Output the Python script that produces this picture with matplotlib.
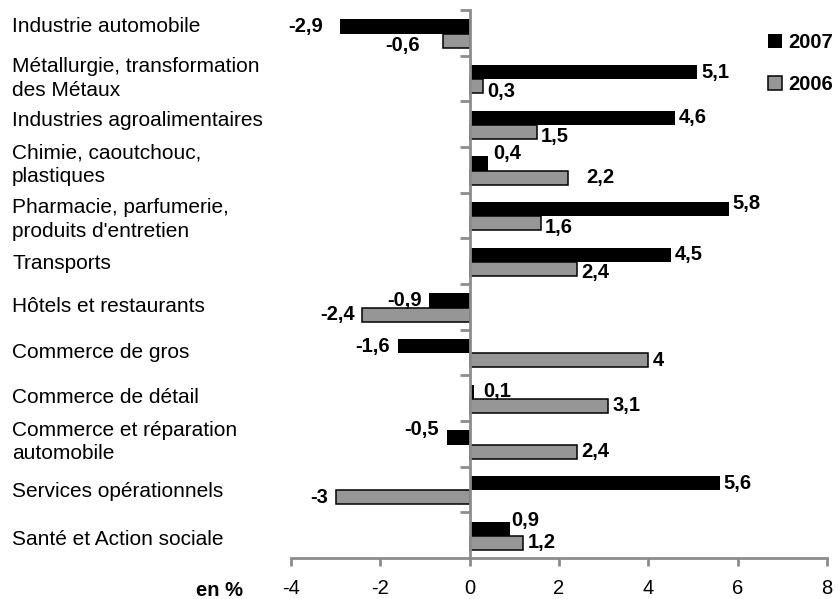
import numpy as np
import matplotlib
matplotlib.use("Agg")
import matplotlib.pyplot as plt
import matplotlib.transforms as mtransforms

plt.rcParams['font.family'] = ['Liberation Sans', 'DejaVu Sans']

# Data
categories = [
    "Industrie automobile",
    "Métallurgie, transformation\ndes Métaux",
    "Industries agroalimentaires",
    "Chimie, caoutchouc,\nplastiques",
    "Pharmacie, parfumerie,\nproduits d'entretien",
    "Transports",
    "Hôtels et restaurants",
    "Commerce de gros",
    "Commerce de détail",
    "Commerce et réparation\nautomobile",
    "Services opérationnels",
    "Santé et Action sociale",
]
v2007 = [-2.9, 5.1, 4.6, 0.4, 5.8, 4.5, -0.9, -1.6, 0.1, -0.5, 5.6, 0.9]
v2006 = [-0.6, 0.3, 1.5, 2.2, 1.6, 2.4, -2.4, 4.0, 3.1, 2.4, -3.0, 1.2]
xticks = [-4, -2, 0, 2, 4, 6, 8]

# small manual nudges of the value labels (pixels, +y = down)
dy2007 = [0, 0, 0, -10, -6, 0, 0, 0, 0, -8, 0, -8]
dy2006 = [5, 5, 5, 0, 4, 4, 0, 0, 0, 0, 0, 0]
dx2007 = [-9, 0, 0, 2, 0, 0, 0, 0, 5, 0, 0, -3]
dx2006 = [-15, 0, 0, 14, 0, 0, 0, 0, 0, 0, 0, 0]
cat_dy = [-6, 0, -4, -5, 4, 2, 0, 0, -1, -2, 2, 4]

fig = plt.figure(figsize=(8.38, 5.99), dpi=100)
ax = fig.add_axes([291 / 838, 1 - 558 / 599, 536 / 838, 548 / 599])

y = np.arange(len(categories))
h = 0.31
ax.barh(y - 0.14, v2007, height=h, color='black', label='2007', zorder=2)
ax.barh(y + 0.17, v2006, height=h, color='#969696', edgecolor='black',
        linewidth=1.1, label='2006', zorder=2)

ax.set_xlim(-4, 8)
ax.set_ylim(len(categories) - 0.5, -0.5)
ax.set_xticks(xticks)
ax.set_xticklabels([str(t) for t in xticks], fontsize=14.5)
ax.set_yticks(np.arange(len(categories)) - 0.5)
ax.set_yticklabels([])

grey = '#8c8c8c'
for s in ['top', 'right']:
    ax.spines[s].set_visible(False)
ax.spines['left'].set_position(('data', 0))
ax.spines['left'].set_color(grey)
ax.spines['left'].set_linewidth(2)
ax.spines['bottom'].set_color(grey)
ax.spines['bottom'].set_linewidth(2)
ax.tick_params(axis='x', colors=grey, length=6, width=2, direction='out', pad=9, labelcolor='black')
ax.tick_params(axis='y', colors=grey, length=7, width=2, direction='out')
ax.spines['left'].set_zorder(3)

def px(v):
    return v * 0.72

for i in range(len(categories)):
    for val, yy, dx, dy in [(v2007[i], y[i] - 0.14, dx2007[i], dy2007[i]),
                            (v2006[i], y[i] + 0.17, dx2006[i], dy2006[i])]:
        txt = ('%g' % val).replace('.', ',')
        if val >= 0:
            ax.annotate(txt, (val, yy), xytext=(px(4 + dx), px(-dy)), textcoords='offset points',
                        ha='left', va='center', fontsize=14.5, fontweight='bold')
        else:
            ax.annotate(txt, (val, yy), xytext=(px(-8 + dx), px(-dy)), textcoords='offset points',
                        ha='right', va='center', fontsize=14.5, fontweight='bold')

trans = mtransforms.blended_transform_factory(fig.transFigure, ax.transData)
for i, cat in enumerate(categories):
    t = ax.text(12 / 838, y[i], cat, transform=trans, ha='left', va='center',
                fontsize=15, linespacing=1.3)
    t.set_transform(trans + mtransforms.ScaledTranslation(0, -cat_dy[i] / 100, fig.dpi_scale_trans))

fig.text(243 / 838, 1 - 591 / 599, "en %", ha='right', va='center', fontsize=14.5, fontweight='bold')

handles, labels = ax.get_legend_handles_labels()
fig.legend(handles, labels, loc='upper left', bbox_to_anchor=(768 / 838, 1 - 33 / 599),
           frameon=False, handlelength=0.7, handleheight=0.7, handletextpad=0.3,
           labelspacing=1.15, borderpad=0, borderaxespad=0,
           prop={'weight': 'bold', 'size': 14.5})

fig.savefig("out.png", dpi=100)
